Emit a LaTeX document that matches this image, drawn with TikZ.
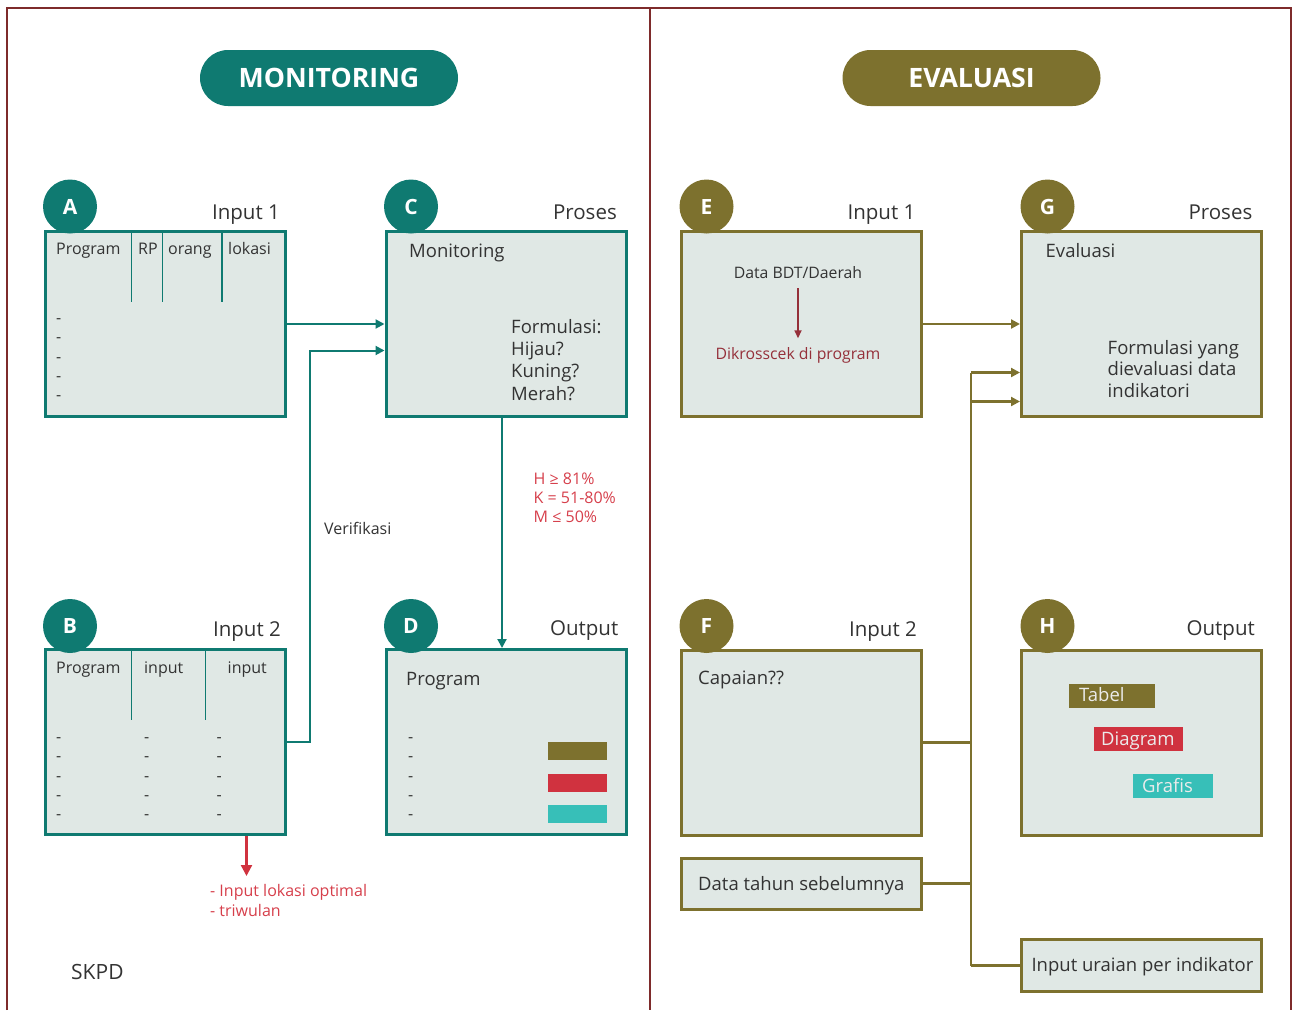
\documentclass[tikz,border=0pt]{standalone}
\usepackage{fontspec}
\setmainfont{Open Sans}
\usetikzlibrary{arrows.meta}

\definecolor{monteal}{HTML}{0F7A71}
\definecolor{evolive}{HTML}{7D712E}
\definecolor{panelfill}{HTML}{E0E8E5}
\definecolor{framered}{HTML}{7E2B2B}
\definecolor{flagred}{HTML}{D0323F}
\definecolor{flagcyan}{HTML}{37BFB8}
\definecolor{notered}{HTML}{D63F4B}
\definecolor{checkred}{HTML}{95303A}
\definecolor{inktext}{HTML}{333333}

\begin{document}
\begin{tikzpicture}[x=1pt,y=-1pt,
  mbox/.style={draw=monteal, fill=panelfill, line width=3pt,
    minimum width=240pt, minimum height=185pt, inner sep=0pt},
  ebox/.style={mbox, draw=evolive},
  badge/.style={circle, minimum size=54pt, inner sep=0pt, text=white,
    font=\bfseries\fontsize{21}{21}\selectfont},
  pill/.style={rounded corners=28pt, minimum width=258pt, minimum height=56pt,
    inner sep=0pt, text=white, font=\bfseries\fontsize{26.7}{26.7}\selectfont},
  lbl/.style={inner sep=0pt, text=inktext, font=\fontsize{#1}{#1}\selectfont},
  lbl/.default=18.5,
  tconn/.style={draw=monteal, line width=2pt},
  oconn/.style={draw=evolive, line width=2.2pt},
  tline/.style={draw=monteal, line width=1.6pt},
  tip/.style={-{Triangle[length=9pt,width=9pt]}},
  flag/.style={inner sep=0pt, minimum width=59pt, minimum height=18pt, anchor=north west},
  tagbox/.style={inner sep=0pt, minimum height=24pt, anchor=north west},
  tagtext/.style={inner sep=0pt, text=white!92!black, font=\fontsize{18.5}{18.5}\selectfont, anchor=base west},
]
\useasboundingbox (0,0) rectangle (1293,1010);

% outer frame and the divider between the two halves
\draw[framered, line width=2pt] (7,1010) -- (7,7.5) -- (1290.5,7.5) -- (1290.5,1010);
\draw[framered, line width=2pt] (650,7.5) -- (650,1010);

% section titles
\node[pill, fill=monteal] (montitle) at (329,78) {\raisebox{-1.5pt}{MONITORING}};
\node[pill, fill=evolive] (evtitle) at (971.5,78) {\raisebox{-1.5pt}{EVALUASI}};

% ---------------- monitoring panels ----------------
\node[mbox] (A) at (165.5,324) {};
\node[mbox] (C) at (506,324) {};
\node[mbox] (B) at (165.5,742) {};
\node[mbox] (D) at (506,742) {};

% panel A: table header
\draw[tline] (131.5,231) -- (131.5,302);
\draw[tline] (162.5,231) -- (162.5,302);
\draw[tline] (222,231) -- (222,302);
\node[lbl=16, anchor=base west] (aprog) at (56,254.5) {Program};
\node[lbl=16, anchor=base west] (arp) at (138,254.5) {RP};
\node[lbl=16, anchor=base west] (aorang) at (168,254.5) {orang};
\node[lbl=16, anchor=base west] (alok) at (228,254.5) {lokasi};
\foreach \yy [count=\i] in {323,342.5,362,381,400}
  \node[lbl=16, anchor=base west] (ad\i) at (56,\yy) {-};

% panel C
\node[lbl, anchor=base west] (cmon) at (409,257.5) {Monitoring};
\node[lbl, anchor=base west] (cf1) at (511,333) {Formulasi:};
\node[lbl, anchor=base west] (cf2) at (511,355.5) {Hijau?};
\node[lbl, anchor=base west] (cf3) at (511,377.5) {Kuning?};
\node[lbl, anchor=base west] (cf4) at (511,400) {Merah?};

% panel B: table header
\draw[tline] (131.5,649) -- (131.5,720);
\draw[tline] (205.5,649) -- (205.5,720);
\node[lbl=16, anchor=base west] (bprog) at (56,673.5) {Program};
\node[lbl=16, anchor=base west] (bin1) at (144,673.5) {input};
\node[lbl=16, anchor=base west] (bin2) at (227.5,673.5) {input};
\foreach \yy [count=\i] in {742,761.5,781,800.5,819.5} {
  \node[lbl=16, anchor=base west] (bda\i) at (56,\yy) {-};
  \node[lbl=16, anchor=base west] (bdb\i) at (144,\yy) {-};
  \node[lbl=16, anchor=base west] (bdc\i) at (216.5,\yy) {-};
}

% panel D
\node[lbl, anchor=base west] (dprog) at (406,685) {Program};
\foreach \yy [count=\i] in {742,761.5,781,800.5,819.5}
  \node[lbl=16, anchor=base west] (dd\i) at (408,\yy) {-};
\node[flag, fill=evolive] (dbar1) at (548,742) {};
\node[flag, fill=flagred] (dbar2) at (548,774) {};
\node[flag, fill=flagcyan] (dbar3) at (548,805) {};

% badges and headings
\node[badge, fill=monteal] (bA) at (70,206.5) {A};
\node[badge, fill=monteal] (bC) at (411,206.5) {C};
\node[badge, fill=monteal] (bB) at (70,626) {B};
\node[badge, fill=monteal] (bD) at (411,626) {D};
\node[lbl=20.5, anchor=base east] (hA) at (280,219) {Input 1};
\node[lbl=20.5, anchor=base east] (hC) at (617,219) {Proses};
\node[lbl=20.5, anchor=base east] (hB) at (281,636) {Input 2};
\node[lbl=20.5, anchor=base east] (hD) at (618.5,635.5) {Output};

% monitoring connectors
\draw[tconn, tip] (A.east) -- (C.west);
\draw[tconn, tip] (B.east) -- ++(23,0) |- ([yshift=-26.5pt]C.west);
\draw[tconn, tip] ([xshift=-4pt]C.south) -- ([xshift=-4pt]D.north);
\node[lbl=16, anchor=base west] (verif) at (324,534.5) {Verifikasi};
\node[lbl=16, anchor=base west, text=notered] (th1) at (533.5,484) {H ≥ 81\%};
\node[lbl=16, anchor=base west, text=notered] (th2) at (533.5,503) {K = 51-80\%};
\node[lbl=16, anchor=base west, text=notered] (th3) at (533.5,522) {M ≤ 50\%};

\draw[draw=flagred, line width=2.2pt, -{Triangle[length=11pt,width=11pt]}]
  ([xshift=81pt]B.south) -- ++(0,40) coordinate (redend);
\node[lbl=16, anchor=base west, text=notered] (bn1) at (210,896.5) {- Input lokasi optimal};
\node[lbl=16, anchor=base west, text=notered] (bn2) at (210,916) {- triwulan};
\node[lbl=21, anchor=base west] (skpd) at (71,979.5) {SKPD};

% ---------------- evaluation panels ----------------
\node[ebox] (E) at (801,324) {};
\node[ebox] (G) at (1141.5,324) {};
\node[ebox] (F) at (801,742.5) {};
\node[ebox] (H) at (1141.5,742.5) {};
\node[ebox, minimum height=51pt] (P) at (801,883.5) {};
\node[ebox, minimum height=52pt] (U) at (1141.5,965.5) {};

% panel E
\node[lbl=15.8, anchor=base] (bdt) at (798,278) {Data BDT/Daerah};
\node[lbl=15.8, anchor=base, text=checkred] (kross) at (798,359.5) {Dikrosscek di program};
\draw[draw=checkred, line width=1.6pt, -{Triangle[length=8pt,width=7pt]}]
  ([yshift=-10pt]bdt.south) -- ([yshift=9pt]kross.north);

% panel G
\node[lbl, anchor=base west] (geval) at (1045.5,257) {Evaluasi};
\node[lbl, anchor=base west] (gf1) at (1107.5,354) {Formulasi yang};
\node[lbl, anchor=base west] (gf2) at (1107.5,375.5) {dievaluasi data};
\node[lbl, anchor=base west] (gf3) at (1107.5,397) {indikatori};

% panel F and the extra inputs
\node[lbl, anchor=base west] (fcap) at (698,684) {Capaian??};
\node[lbl, anchor=base west] (ptxt) at (698,890.5) {Data tahun sebelumnya};
\node[lbl, anchor=base] (utxt) at (1142.5,971.5) {Input uraian per indikator};

% panel H
\node[tagbox, fill=evolive, minimum width=86pt] (tabel) at (1069,683.5) {};
\node[tagtext] (tabelt) at (1079,701.5) {Tabel};
\node[tagbox, fill=flagred, minimum width=89pt] (diag) at (1094,727) {};
\node[tagtext] (diagt) at (1101,745) {Diagram};
\node[tagbox, fill=flagcyan, minimum width=80pt] (graf) at (1133,774) {};
\node[tagtext] (graft) at (1142,792.5) {Grafis};

% badges and headings
\node[badge, fill=evolive] (bE) at (706.5,206.5) {E};
\node[badge, fill=evolive] (bG) at (1047.5,206.5) {G};
\node[badge, fill=evolive] (bF) at (706.5,626) {F};
\node[badge, fill=evolive] (bH) at (1047.5,626) {H};
\node[lbl=20.5, anchor=base east] (hE) at (915.5,219) {Input 1};
\node[lbl=20.5, anchor=base east] (hG) at (1252.5,219) {Proses};
\node[lbl=20.5, anchor=base east] (hF) at (917,636) {Input 2};
\node[lbl=20.5, anchor=base east] (hH) at (1255,635.5) {Output};

% evaluation connectors
\coordinate (trunktop) at (971,372.5);
\coordinate (trunkmid) at (971,401.5);
\coordinate (trunkbot) at (971,965.5);
\draw[oconn, tip] (E.east) -- (G.west);
\draw[oconn] (trunkbot) -- (trunktop);
\draw[oconn, tip] (trunktop) -- (G.west |- trunktop);
\draw[oconn, tip] (trunkmid) -- (G.west |- trunkmid);
\draw[oconn] (F.east) -- (F.east -| trunktop);
\draw[oconn] (P.east) -- (P.east -| trunktop);
\draw[oconn] (trunkbot) -- (U.west);
\end{tikzpicture}
\end{document}
